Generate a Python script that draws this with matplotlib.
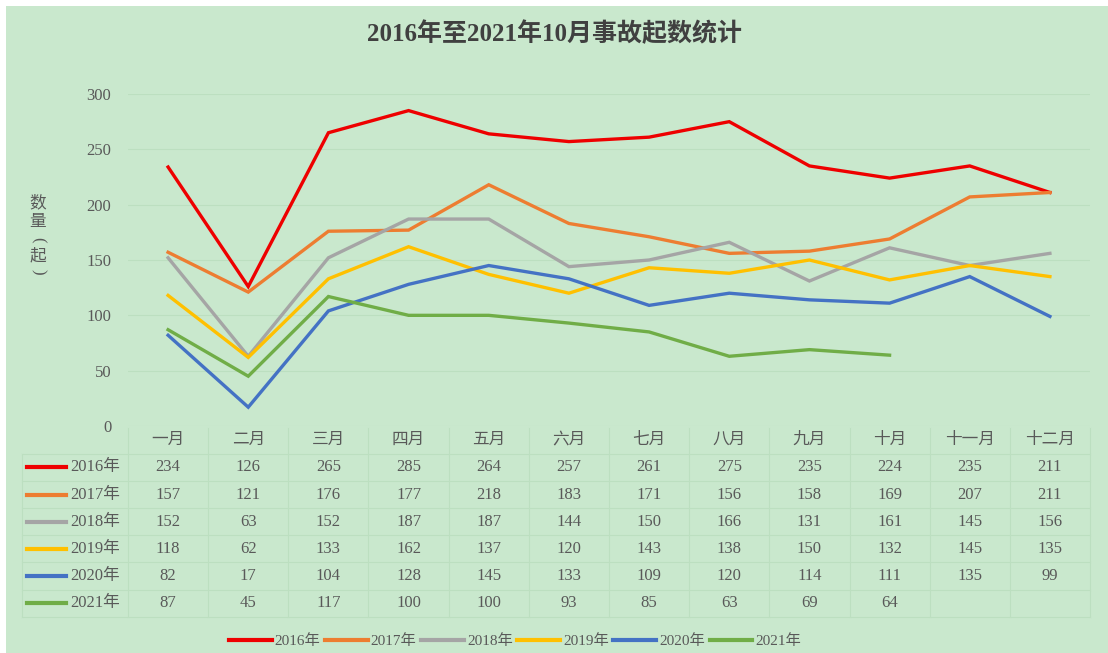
import matplotlib.pyplot as plt
import numpy as np
from matplotlib.lines import Line2D
from matplotlib.transforms import blended_transform_factory

months = ['一月', '二月', '三月', '四月', '五月', '六月', '七月', '八月', '九月', '十月', '十一月', '十二月']
years = ['2016年', '2017年', '2018年', '2019年', '2020年', '2021年']
y2016 = [234, 126, 265, 285, 264, 257, 261, 275, 235, 224, 235, 211]
y2017 = [157, 121, 176, 177, 218, 183, 171, 156, 158, 169, 207, 211]
y2018 = [152, 63, 152, 187, 187, 144, 150, 166, 131, 161, 145, 156]
y2019 = [118, 62, 133, 162, 137, 120, 143, 138, 150, 132, 145, 135]
y2020 = [82, 17, 104, 128, 145, 133, 109, 120, 114, 111, 135, 99]
y2021 = [87, 45, 117, 100, 100, 93, 85, 63, 69, 64]
series = [y2016, y2017, y2018, y2019, y2020, y2021]
colors = ['#ee0000', '#ed7d31', '#a5a5a5', '#ffc000', '#4472c4', '#70ad47']

FONT = ['Liberation Serif', 'Noto Sans CJK SC']
BG = '#c9e8cd'
GRID = '#bcdfc0'
TXT = '#595959'
W, H = 1108, 653

fig = plt.figure(figsize=(W / 100, H / 100), dpi=100)
fig.patch.set_facecolor('white')
fig.add_artist(plt.Rectangle((6 / W, 0), 1 - 6 / W, 1 - 6 / H, transform=fig.transFigure,
                             facecolor=BG, edgecolor='none', zorder=-10))


def fy(py):
    return 1 - py / H


ax = fig.add_axes([128 / W, fy(426), (1090 - 128) / W, (426 - 94) / H])
ax.set_facecolor('none')
x = np.arange(len(months))
for vals, c, lab in zip(series, colors, years):
    ax.plot(x[:len(vals)], vals, color=c, lw=2.4, label=lab, solid_joinstyle='miter')

ax.set_xlim(-0.5, 11.5)
ax.set_ylim(0, 300)
ax.set_yticks(range(0, 301, 50))
ax.set_xticks([])
for s in ax.spines.values():
    s.set_visible(False)
ax.grid(axis='y', color=GRID, lw=0.8)
ax.tick_params(axis='y', length=0, pad=12, labelcolor=TXT)
for t in ax.get_yticklabels():
    t.set_fontfamily(FONT)
    t.set_fontsize(12)

fig.text(0.5, fy(34), '2016年至2021年10月事故起数统计', ha='center', va='center',
         fontsize=18, fontweight='bold', color='#404040', family=FONT)

# vertical axis title, characters stacked
ylab_chars = [('数', 0, 203), ('量', 0, 222), ('(', -90, 240), ('起', 0, 256), (')', -90, 272)]
for ch, rot, py in ylab_chars:
    fig.text(38 / W, fy(py), ch, ha='center', va='center', fontsize=12, rotation=rot,
             color=TXT, family=FONT)

# data table
tr = blended_transform_factory(ax.transData, fig.transFigure)
row_y = [467, 495, 522, 549, 576, 603]
head_y = 440
for i, m in enumerate(months):
    ax.text(i, fy(head_y), m, transform=tr, ha='center', va='center', fontsize=12,
            color=TXT, family=FONT)
for r, (vals, c, lab) in enumerate(zip(series, colors, years)):
    yy = fy(row_y[r])
    for i, v in enumerate(vals):
        ax.text(i, yy, str(v), transform=tr, ha='center', va='center', fontsize=12,
                color=TXT, family=FONT)
    fig.add_artist(Line2D([27 / W, 66 / W], [yy, yy], color=c, lw=3, transform=fig.transFigure))
    fig.text(70 / W, yy, lab, ha='left', va='center', fontsize=12, color=TXT, family=FONT)

# faint table grid
lines_y = [454, 481, 508, 535, 562, 590, 617]
for ly in lines_y:
    fig.add_artist(Line2D([22 / W, 1090 / W], [fy(ly), fy(ly)], color=GRID, lw=0.8,
                          transform=fig.transFigure))
for k in range(13):
    ax.add_artist(Line2D([k - 0.5, k - 0.5], [fy(428), fy(617)], color=GRID, lw=0.8,
                         transform=tr, clip_on=False))
fig.add_artist(Line2D([22 / W, 22 / W], [fy(454), fy(617)], color=GRID, lw=0.8,
                      transform=fig.transFigure))

handles = [Line2D([], [], color=c, lw=3) for c in colors]
fig.legend(handles, years, loc='center', bbox_to_anchor=(515 / W, fy(641)), ncol=6,
           frameon=False, handlelength=2.8, handletextpad=0.2, columnspacing=0.3,
           prop={'family': FONT, 'size': 11}, labelcolor=TXT)

fig.savefig('out.png', dpi=100, facecolor=fig.get_facecolor())
